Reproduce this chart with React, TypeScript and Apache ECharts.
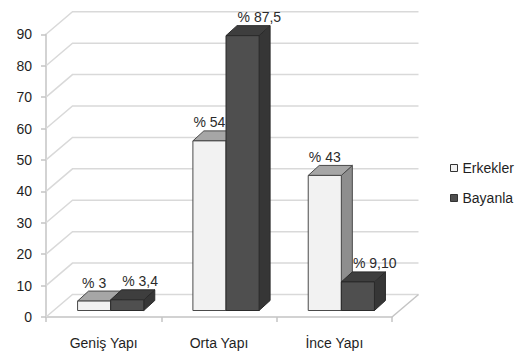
import React, { useEffect, useRef } from "react";
import * as echarts from "echarts";

const categories = ["Geniş Yapı", "Orta Yapı", "İnce Yapı"];
const erkekler = [3, 54, 43];
const bayanlar = [3.4, 87.5, 9.1];
const erkeklerLabels = ["% 3", "% 54", "% 43"];
const bayanlarLabels = ["% 3,4", "% 87,5", "% 9,10"];
const yTicks = [0, 10, 20, 30, 40, 50, 60, 70, 80, 90];
const seriesNames = ["Erkekler", "Bayanla"];

// 3D-look constants (pixels)
const WALL_DX = 26.5;
const WALL_DY = -22.5;
const BAR_SHIFT_X = 7;
const BAR_SHIFT_Y = -6.5;
const BAR_DX = 11;
const BAR_DY = -10;
const FONT = "Arial, 'Liberation Sans', sans-serif";

const erkColors = { front: "#f2f2f2", top: "#a6a6a6", side: "#8e8e8e", edge: "#4a4a4a" };
const bayColors = { front: "#4f4f4f", top: "#3e3e3e", side: "#363636", edge: "#2a2a2a" };

function makeBarRenderer(side: number, colors: any, labels: string[]) {
  return (params: any, api: any) => {
    const idx = api.value(0);
    const v = api.value(1);
    const band = api.size([1, 0])[0];
    const base = api.coord([idx, 0]);
    const top = api.coord([idx, v]);
    const cx = base[0] + BAR_SHIFT_X;
    const yb = base[1] + BAR_SHIFT_Y;
    const yt = top[1] + BAR_SHIFT_Y;
    const w = band * 0.287;
    const x0 = side === 0 ? cx - w : cx;
    const x1 = x0 + w;
    const stroke = { stroke: colors.edge, lineWidth: 1 };
    const label = labels[params.dataIndex];
    const lx = side === 0 ? (x0 + x1) / 2 : (x0 + x1) / 2 - 5;
    return {
      type: "group",
      children: [
        {
          type: "polygon",
          shape: { points: [[x1, yt], [x1 + BAR_DX, yt + BAR_DY], [x1 + BAR_DX, yb + BAR_DY], [x1, yb]] },
          style: { fill: colors.side, ...stroke },
        },
        {
          type: "polygon",
          shape: { points: [[x0, yt], [x0 + BAR_DX, yt + BAR_DY], [x1 + BAR_DX, yt + BAR_DY], [x1, yt]] },
          style: { fill: colors.top, ...stroke },
        },
        {
          type: "rect",
          shape: { x: x0, y: yt, width: w, height: yb - yt },
          style: { fill: colors.front, ...stroke },
        },
        {
          type: "text",
          style: {
            text: label,
            x: lx,
            y: yt + BAR_DY - 8.5,
            align: side === 0 ? "center" : "left",
            verticalAlign: "middle",
            fontSize: 14,
            fontFamily: FONT,
            fill: "#2b2b2b",
          },
        },
      ],
    };
  };
}

function wallRenderer(params: any, api: any) {
  const v = api.value(1);
  const y = api.coord([0, v])[1];
  const cs = params.coordSys;
  const xl = cs.x;
  const xr = cs.x + cs.width;
  const children: any[] = [
    {
      type: "polyline",
      shape: { points: [[xl, y], [xl + WALL_DX, y + WALL_DY], [xr + WALL_DX, y + WALL_DY]] },
      style: { fill: "none", stroke: "#d9d9d9", lineWidth: 1.5 },
    },
  ];
  if (v === 0) {
    children.push({
      type: "line",
      shape: { x1: xr, y1: y, x2: xr + WALL_DX, y2: y + WALL_DY },
      style: { stroke: "#c4c4c4", lineWidth: 1.5 },
    });
  }
  return { type: "group", children };
}

export default function App() {
  const ref = useRef<HTMLDivElement>(null);
  useEffect(() => {
    if (!ref.current) return;
    const chart = echarts.init(ref.current, undefined, { renderer: "svg" });
    chart.setOption({
      animation: false,
      backgroundColor: "#ffffff",
      grid: { left: 46, right: 123, top: 34.3, bottom: 39 },
      legend: {
        orient: "vertical",
        left: 450,
        top: 161,
        padding: 0,
        itemWidth: 7,
        itemHeight: 7,
        itemGap: 16,
        icon: "rect",
        data: seriesNames,
        itemStyle: { borderColor: "#333333", borderWidth: 1 },
        textStyle: { fontSize: 14, fontFamily: FONT, color: "#1f1f1f" },
        selectedMode: false,
      },
      xAxis: {
        type: "category",
        data: categories,
        boundaryGap: true,
        axisLine: { show: true, lineStyle: { color: "#c4c4c4", width: 1.5 } },
        axisTick: { show: true, length: 5, lineStyle: { color: "#c4c4c4", width: 1.5 } },
        axisLabel: { fontSize: 14, fontFamily: FONT, color: "#1f1f1f", margin: 19 },
        splitLine: { show: false },
      },
      yAxis: {
        type: "value",
        min: 0,
        max: 90,
        interval: 10,
        axisLine: { show: true, lineStyle: { color: "#c4c4c4", width: 1.5 } },
        axisTick: { show: true, length: 5, inside: false, lineStyle: { color: "#c4c4c4", width: 1.5 } },
        axisLabel: { fontSize: 14, fontFamily: FONT, color: "#1f1f1f", margin: 14 },
        splitLine: { show: false },
      },
      series: [
        {
          name: "wall",
          type: "custom",
          renderItem: wallRenderer,
          data: yTicks.map((t) => [0, t]),
          encode: { x: 0, y: 1 },
          clip: false,
          silent: true,
          z: 1,
        },
        {
          name: seriesNames[0],
          type: "custom",
          renderItem: makeBarRenderer(0, erkColors, erkeklerLabels),
          data: erkekler.map((v, i) => [i, v]),
          encode: { x: 0, y: 1 },
          itemStyle: { color: erkColors.front },
          clip: false,
          z: 2,
        },
        {
          name: seriesNames[1],
          type: "custom",
          renderItem: makeBarRenderer(1, bayColors, bayanlarLabels),
          data: bayanlar.map((v, i) => [i, v]),
          encode: { x: 0, y: 1 },
          itemStyle: { color: bayColors.front },
          clip: false,
          z: 3,
        },
      ],
    });
    return () => chart.dispose();
  }, []);
  return <div ref={ref} style={{ width: 515, height: 356, position: "absolute", left: 0, top: 0 }} />;
}
